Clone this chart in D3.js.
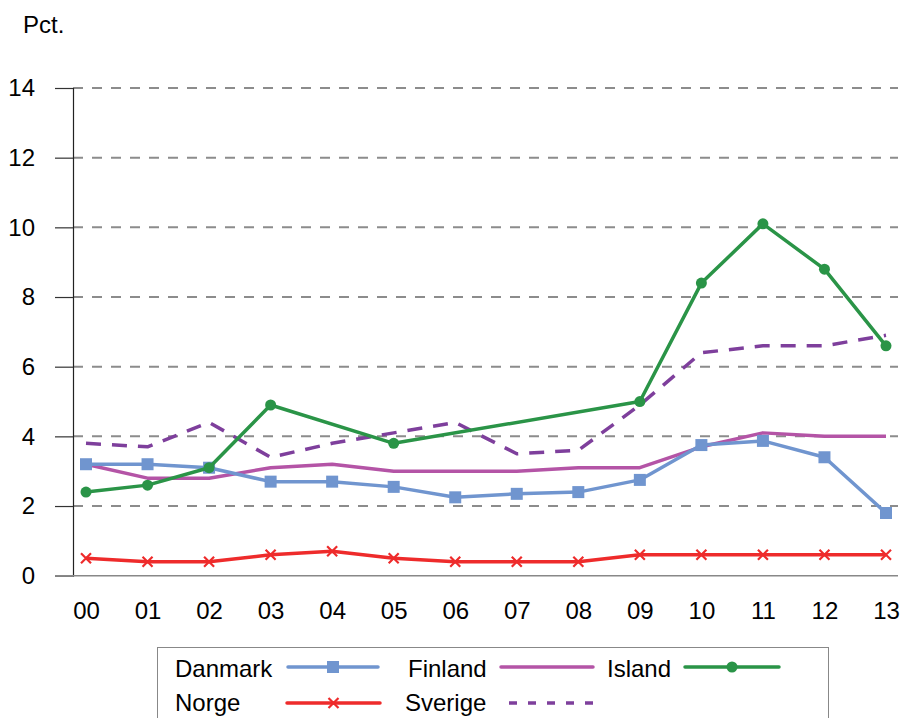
<!DOCTYPE html>
<html>
<head>
<meta charset="utf-8">
<script src="https://cdn.jsdelivr.net/npm/d3@7"></script>
<style>
  body { margin: 0; background: #fff; }
  svg text { font-family: "Liberation Sans", Arial, sans-serif; fill: #000; }
</style>
</head>
<body>
<div class="chart"></div>
<script>
var svgWidth = 903;
var svgHeight = 718;

// years on the x axis
var years = ["00", "01", "02", "03", "04", "05", "06", "07", "08", "09", "10", "11", "12", "13"];
var yTicks = [0, 2, 4, 6, 8, 10, 12, 14];

// series values (pct.)
var danmark = [3.2, 3.2, 3.1, 2.7, 2.7, 2.55, 2.25, 2.35, 2.4, 2.75, 3.75, 3.87, 3.4, 1.8];
var finland = [3.2, 2.8, 2.8, 3.1, 3.2, 3.0, 3.0, 3.0, 3.1, 3.1, 3.7, 4.1, 4.0, 4.0];
var island  = [2.4, 2.6, 3.1, 4.9, null, 3.8, null, null, null, 5.0, 8.4, 10.1, 8.8, 6.6];
var norge   = [0.5, 0.4, 0.4, 0.6, 0.7, 0.5, 0.4, 0.4, 0.4, 0.6, 0.6, 0.6, 0.6, 0.6];
var sverige = [3.8, 3.7, 4.4, 3.4, 3.8, 4.1, 4.4, 3.5, 3.6, 4.9, 6.4, 6.6, 6.6, 6.9];

var series = [
  { name: "Danmark", values: danmark, color: "#7095cf", marker: "square" },
  { name: "Finland", values: finland, color: "#b454a6", marker: "none" },
  { name: "Island",  values: island,  color: "#2a9447", marker: "circle" },
  { name: "Norge",   values: norge,   color: "#ee2b2b", marker: "cross" },
  { name: "Sverige", values: sverige, color: "#7e3f9c", marker: "none", dash: "15,11" }
];

var svg = d3.select(".chart")
  .append("svg")
  .attr("width", svgWidth)
  .attr("height", svgHeight);

// scales
var x = d3.scalePoint()
  .domain(years)
  .range([86, 886]);

var y = d3.scaleLinear()
  .domain([0, 14])
  .range([575.7, 88]);

var axisLeftX = 73;
var axisRightX = 898;

// gridlines
svg.append("g")
  .selectAll("line")
  .data(yTicks.filter(d => d > 0))
  .enter()
  .append("line")
  .attr("x1", axisLeftX)
  .attr("x2", axisRightX)
  .attr("y1", d => y(d))
  .attr("y2", d => y(d))
  .attr("stroke", "#8c8c8c")
  .attr("stroke-width", 2)
  .attr("stroke-dasharray", "10,9");

// y axis
var leftAxis = d3.axisLeft(y)
  .tickValues(yTicks)
  .tickSize(18)
  .tickPadding(20)
  .tickFormat(d3.format("d"));

var yAxis = svg.append("g")
  .attr("transform", `translate(${axisLeftX}, 0)`)
  .call(leftAxis);
yAxis.select(".domain").attr("stroke", "#222").attr("stroke-width", 1.2);
yAxis.selectAll(".tick line").attr("stroke", "#333").attr("stroke-width", 1.2);
yAxis.selectAll(".tick text")
  .style("font-size", "24px")
  .attr("fill", "#000");
yAxis.selectAll(".tick").filter(d => d === 0).select("line").attr("stroke", "#888");

// x axis line (gray), labels via axisBottom
svg.append("line")
  .attr("x1", 55)
  .attr("x2", axisRightX)
  .attr("y1", y(0))
  .attr("y2", y(0))
  .attr("stroke", "#888")
  .attr("stroke-width", 1.5);

var bottomAxis = d3.axisBottom(x).tickSize(0).tickPadding(26);
var xAxis = svg.append("g")
  .attr("transform", `translate(0, ${y(0)})`)
  .call(bottomAxis);
xAxis.select(".domain").remove();
xAxis.selectAll(".tick text")
  .style("font-size", "24px")
  .attr("fill", "#000");

// y label
svg.append("text")
  .attr("x", 23)
  .attr("y", 33)
  .style("font-size", "24px")
  .text("Pct.");

// lines
var line = d3.line()
  .x(d => x(d.year))
  .y(d => y(d.value));

function pointsOf(s) {
  return s.values
    .map((v, i) => ({ year: years[i], value: v }))
    .filter(d => d.value !== null);
}

function drawMarker(g, type, color, cx, cy) {
  if (type === "square") {
    g.append("rect")
      .attr("x", cx - 6).attr("y", cy - 6)
      .attr("width", 12).attr("height", 12)
      .attr("fill", color);
  } else if (type === "circle") {
    g.append("circle")
      .attr("cx", cx).attr("cy", cy).attr("r", 5.5)
      .attr("fill", color);
  } else if (type === "cross") {
    g.append("path")
      .attr("d", `M${cx - 5},${cy - 5}L${cx + 5},${cy + 5}M${cx - 5},${cy + 5}L${cx + 5},${cy - 5}`)
      .attr("stroke", color)
      .attr("stroke-width", 2.2)
      .attr("fill", "none");
  }
}

// draw order: Sverige behind, then others
var drawOrder = ["Sverige", "Norge", "Finland", "Danmark", "Island"];
drawOrder.forEach(function (name) {
  var s = series.find(d => d.name === name);
  var pts = pointsOf(s);
  var g = svg.append("g").attr("class", "series");
  g.append("path")
    .datum(pts)
    .attr("d", line)
    .attr("fill", "none")
    .attr("stroke", s.color)
    .attr("stroke-width", 3.5)
    .attr("stroke-linejoin", "round")
    .attr("stroke-dasharray", s.dash || null);
  pts.forEach(function (p) {
    drawMarker(g, s.marker, s.color, x(p.year), y(p.value));
  });
});

// legend
svg.append("rect")
  .attr("x", 157.5)
  .attr("y", 647.5)
  .attr("width", 671)
  .attr("height", 90)
  .attr("fill", "#fff")
  .attr("stroke", "#888")
  .attr("stroke-width", 1);

var legendItems = [
  { name: "Danmark", tx: 175, ty: 677, lx1: 288, lx2: 378, ly: 667 },
  { name: "Finland", tx: 408, ty: 677, lx1: 501, lx2: 593, ly: 667 },
  { name: "Island",  tx: 607, ty: 677, lx1: 685, lx2: 779, ly: 667 },
  { name: "Norge",   tx: 175, ty: 711, lx1: 287, lx2: 380, ly: 703 },
  { name: "Sverige", tx: 405, ty: 711, lx1: 509, lx2: 596, ly: 703 }
];

legendItems.forEach(function (item) {
  var s = series.find(d => d.name === item.name);
  var g = svg.append("g").attr("class", "legend-item");
  g.append("text")
    .attr("x", item.tx)
    .attr("y", item.ty)
    .style("font-size", "24px")
    .text(item.name);
  g.append("line")
    .attr("x1", item.lx1)
    .attr("x2", item.lx2)
    .attr("y1", item.ly)
    .attr("y2", item.ly)
    .attr("stroke", s.color)
    .attr("stroke-width", 3.5)
    .attr("stroke-linecap", s.dash ? "butt" : "round")
    .attr("stroke-dasharray", s.dash ? "8,11" : null);
  drawMarker(g, s.marker, s.color, (item.lx1 + item.lx2) / 2, item.ly);
});
</script>
</body>
</html>
